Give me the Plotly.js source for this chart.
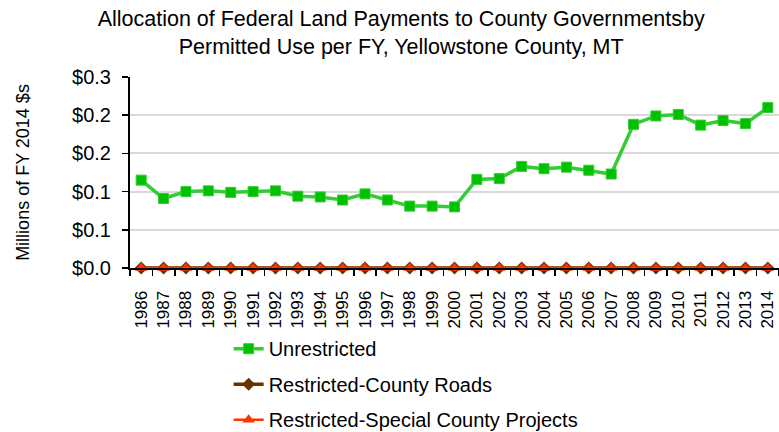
<!DOCTYPE html>
<html>
<head>
<meta charset="utf-8">
<script src="https://cdn.plot.ly/plotly-3.0.1.min.js"></script>
<style>html,body{margin:0;padding:0;background:#fff;}</style>
</head>
<body>
<div id="chart" style="width:779px;height:432px;"></div>
<script>
const years = ["1986","1987","1988","1989","1990","1991","1992","1993","1994","1995","1996","1997","1998","1999","2000","2001","2002","2003","2004","2005","2006","2007","2008","2009","2010","2011","2012","2013","2014"];
const unrestricted = [0.115,0.091,0.100,0.101,0.099,0.100,0.101,0.094,0.093,0.089,0.097,0.089,0.081,0.081,0.080,0.116,0.117,0.133,0.130,0.132,0.128,0.123,0.188,0.199,0.201,0.187,0.193,0.189,0.210];
const countyRoads = [0,0,0,0,0,0,0,0,0,0,0,0,0,0,0,0,0,0,0,0,0,0,0,0,0,0,0,0,0];
const specialProjects = [0,0,0,0,0,0,0,0,0,0,0,0,0,0,0,0,0,0,0,0,0,0,0,0,0,0,0,0,0];
const yTickVals = [0, 0.05, 0.1, 0.15, 0.2, 0.25];
const yTickLabels = ["$0.0", "$0.1", "$0.1", "$0.2", "$0.2", "$0.3"];

const font = "Liberation Sans, Arial, sans-serif";
const traces = [
  {x: years, y: unrestricted, name: "Unrestricted", type: "scatter", mode: "lines+markers",
   legendgroup: "a", cliponaxis: false,
   line: {color: "#33cc33", width: 3.5},
   marker: {symbol: "square", size: 10, color: "#00c000", line: {color: "#33cc33", width: 1}}},
  {x: years, y: countyRoads, name: "Restricted-County Roads", type: "scatter", mode: "lines+markers",
   legendgroup: "b", cliponaxis: false,
   line: {color: "#663300", width: 3.5},
   marker: {symbol: "diamond", size: 10, color: "#663300"}},
  {x: years, y: specialProjects, name: "Restricted-Special County Projects", type: "scatter", mode: "lines+markers",
   legendgroup: "c", cliponaxis: false,
   line: {color: "#ff3300", width: 2.5},
   marker: {symbol: "triangle-up", size: 11, color: "#ff3300"}}
];

const layout = {
  width: 779, height: 432,
  margin: {l: 130, r: 0, t: 77, b: 164, autoexpand: false},
  paper_bgcolor: "#fff", plot_bgcolor: "#fff",
  font: {family: font, size: 18, color: "#000"},
  title: {text: "Allocation of Federal Land Payments to County Governmentsby<br>Permitted Use per FY, Yellowstone County, MT",
          font: {family: font, size: 21.5, color: "#000"}, x: 0.515, xanchor: "center", xref: "container",
          yref: "container", y: 0.94, yanchor: "top"},
  xaxis: {type: "category", tickangle: -90, showline: true, linecolor: "#000", linewidth: 2,
          ticks: "outside", tickson: "boundaries", ticklen: 6, tickcolor: "#000", tickwidth: 1.5,
          ticklabelstandoff: 14, automargin: false,
          showgrid: false, tickfont: {family: font, size: 17}, range: [-0.5, 28.5]},
  yaxis: {range: [0, 0.25], tickmode: "array", tickvals: yTickVals, ticktext: yTickLabels, automargin: false,
          showline: true, linecolor: "#000", linewidth: 2, ticks: "outside", ticklen: 6, tickcolor: "#000", tickwidth: 1.5,
          ticklabelstandoff: 7,
          showgrid: true, gridcolor: "#d9d9d9", gridwidth: 2, zeroline: false,
          tickfont: {family: font, size: 20},
          title: {text: "Millions of FY 2014 $s", font: {family: font, size: 18}, standoff: 38}},
  legend: {orientation: "v", x: 0.152, xanchor: "left", yref: "container", y: 0.238, yanchor: "top",
           font: {family: font, size: 20}, tracegroupgap: 6.5, bgcolor: "rgba(0,0,0,0)", itemwidth: 30},
  showlegend: true
};

Plotly.newPlot("chart", traces, layout, {displayModeBar: false, staticPlot: true});
</script>
</body>
</html>
